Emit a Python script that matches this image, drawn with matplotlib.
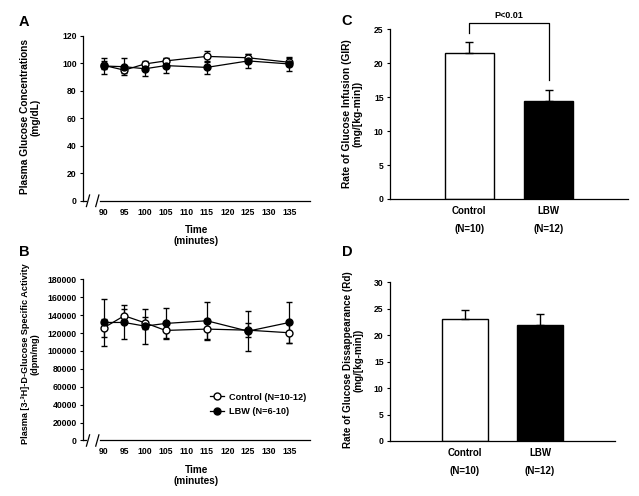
import matplotlib
matplotlib.use("Agg")
import matplotlib.pyplot as plt
from matplotlib.lines import Line2D
import numpy as np

plt.rcParams['font.family'] = ['Liberation Sans', 'DejaVu Sans']
plt.rcParams['font.weight'] = 'bold'
plt.rcParams['axes.labelweight'] = 'bold'

# time points (minutes)
times = [90, 95, 100, 105, 115, 125, 135]
time_ticks = [90, 95, 100, 105, 110, 115, 120, 125, 130, 135]

# A: plasma glucose (mg/dL)
glu_ctrl = [98.5, 95, 99.5, 101.7, 105, 104, 100.7]
glu_ctrl_err = [3, 2, 2.5, 2, 4, 3, 3]
glu_lbw = [98, 97.5, 96, 98.3, 97, 101.7, 99.5]
glu_lbw_err = [6, 6, 5, 5.5, 5, 5, 5]

# B: specific activity (dpm/mg)
sa_ctrl = [125800, 139300, 131400, 122900, 124400, 123200, 120300]
sa_ctrl_err = [10000, 8000, 7000, 9000, 11000, 8000, 11000]
sa_lbw = [131800, 131800, 127700, 130700, 133700, 122100, 131800]
sa_lbw_err = [26000, 19000, 19500, 17000, 21000, 22500, 22500]

# C / D: bars
groups = ['Control\n(N=10)', 'LBW\n(N=12)']
gir = [21.5, 14.4]
gir_err = [1.7, 1.7]
rd = [23.0, 21.9]
rd_err = [1.8, 2.1]

W, H = 639, 496
fig = plt.figure(figsize=(W / 100, H / 100), dpi=100)
fig.patch.set_facecolor('white')

fs = 6.2


def px_text(x, y, s, **kw):
    # place text by pixel position (from top-left)
    fig.text(x / W, 1 - y / H, s, ha='center', va='center', fontweight='bold', **kw)


def line_panel(rect, yc, yce, yl, yle, ylim, yticks):
    ax = fig.add_axes(rect)
    ax.errorbar(times, yc, yerr=yce, color='black', lw=0.9, marker='o', ms=5,
                mfc='white', mec='black', mew=1, capsize=2.5, elinewidth=0.9)
    ax.errorbar(times, yl, yerr=yle, color='black', lw=0.9, marker='o', ms=5,
                mfc='black', mec='black', capsize=2.5, elinewidth=0.9)
    ax.set_xlim(85, 140)
    ax.set_ylim(*ylim)
    ax.set_yticks(yticks)
    ax.set_xticks(time_ticks)
    ax.tick_params(labelsize=fs, length=2.5, width=0.8, pad=2)
    ax.tick_params(axis='x', length=0, pad=5)
    for s in ['top', 'right', 'bottom']:
        ax.spines[s].set_visible(False)
    ax.spines['left'].set_linewidth(0.9)
    # broken x axis
    kw = dict(transform=ax.transAxes, color='black', lw=0.9, clip_on=False)
    ax.plot([0, 0.013], [0, 0], **kw)
    ax.plot([0.075, 1], [0, 0], **kw)
    for xb in [0.022, 0.063]:
        ax.plot([xb - 0.007, xb + 0.007], [-0.035, 0.035], **kw)
    ax.set_xlabel('Time\n(minutes)', fontsize=fs + 1.0, labelpad=6, linespacing=1.1)
    return ax


axA = line_panel([0.1299, 0.5952, 0.3552, 0.3327], glu_ctrl, glu_ctrl_err,
                 glu_lbw, glu_lbw_err, (0, 120), range(0, 121, 20))
axB = line_panel([0.1299, 0.1119, 0.3552, 0.325], sa_ctrl, sa_ctrl_err,
                 sa_lbw, sa_lbw_err, (0, 180000), range(0, 180001, 20000))
handles = [Line2D([], [], color='black', lw=0.9, marker='o', ms=5, mfc='white', mec='black'),
           Line2D([], [], color='black', lw=0.9, marker='o', ms=5, mfc='black', mec='black')]
axB.legend(handles, ['Control (N=10-12)', 'LBW (N=6-10)'], loc='lower right',
           bbox_to_anchor=(1.02, 0.1), frameon=False, handlelength=1.6,
           handletextpad=0.5, labelspacing=0.6,
           prop={'weight': 'bold', 'size': fs + 0.4})


def bar_panel(rect, vals, errs, ylim, yticks):
    ax = fig.add_axes(rect)
    x = np.arange(len(vals))
    ax.bar(x, vals, width=0.61, color=['white', 'black'], edgecolor='black', lw=1)
    ax.errorbar(x, vals, yerr=[np.zeros(len(errs)), errs], fmt='none',
                ecolor='black', elinewidth=1, capsize=3)
    ax.set_xlim(-1, 2)
    ax.set_ylim(*ylim)
    ax.set_yticks(yticks)
    ax.set_xticks(x)
    ax.set_xticklabels(groups, linespacing=2.0)
    ax.tick_params(labelsize=fs, length=2.5, width=0.8, pad=2)
    ax.tick_params(axis='x', length=0, pad=5, labelsize=fs + 0.8)
    for s in ['top', 'right']:
        ax.spines[s].set_visible(False)
    for s in ['left', 'bottom']:
        ax.spines[s].set_linewidth(0.9)
    return ax


axC = bar_panel([0.6103, 0.5988, 0.3725, 0.3421], gir, gir_err, (0, 25), range(0, 26, 5))
# significance bracket
axC.plot([0, 0, 1, 1], [24.4, 25.9, 25.9, 17.5], color='black', lw=0.9, clip_on=False)
axC.text(0.5, 27.0, 'P<0.01', fontsize=fs + 0.3, ha='center', va='center')

axD = bar_panel([0.6103, 0.1109, 0.3521, 0.32], rd, rd_err, (0, 30), range(0, 31, 5))

# y labels
px_text(30, 117, 'Plasma Glucose Concentrations\n(mg/dL)', rotation=90,
        fontsize=7.25, linespacing=1.1)
px_text(30, 354, 'Plasma [3-\u00b3H]-D-Glucose Specific Activity\n(dpm/mg)', rotation=90,
        fontsize=6.6, linespacing=1.1)
px_text(352, 114, 'Rate of Glucose Infusion (GIR)\n(mg/[kg-min])', rotation=90,
        fontsize=7.4, linespacing=1.1)
px_text(353, 360, 'Rate of Glucose Dissappearance (Rd)\n(mg/[kg-min])', rotation=90,
        fontsize=7.1, linespacing=1.1)

# panel letters
for lx, ly, letter in [(24, 22, 'A'), (24, 252, 'B'), (347, 21, 'C'), (347, 252, 'D')]:
    px_text(lx, ly, letter, fontsize=10.5)

fig.savefig('out.png', dpi=100, facecolor='white')
